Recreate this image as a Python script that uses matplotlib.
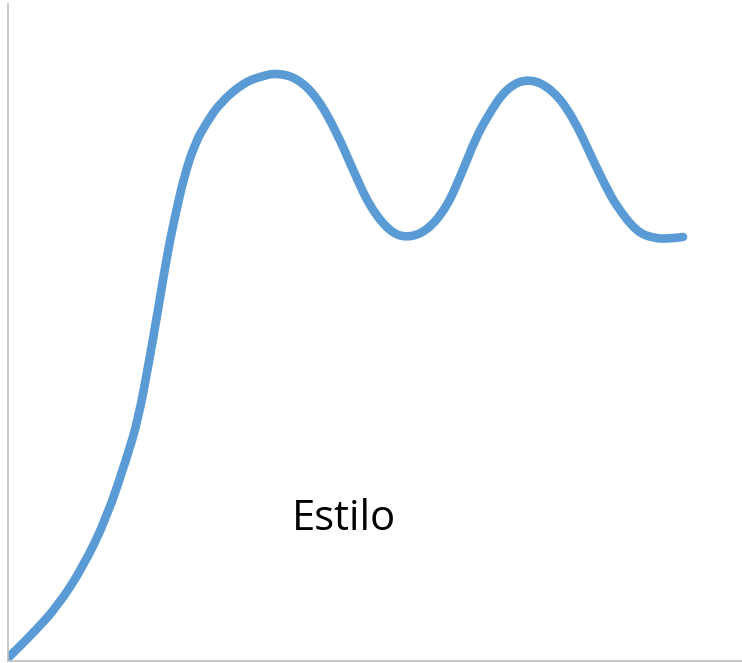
import matplotlib
matplotlib.use("Agg")
import matplotlib.pyplot as plt
from matplotlib.path import Path
from matplotlib.patches import PathPatch

# curve (x to the right, y upwards, same units as the axes)
curve_x = [0, 12, 25, 49, 75, 99, 119, 130, 141, 150, 160, 168, 176, 187, 199,
           212, 235, 254, 269, 289, 309, 329, 345, 362, 382, 399, 419, 439, 455,
           467, 479, 499, 522, 545, 565, 585, 597, 609, 629, 645, 660, 675]
curve_y = [3, 15, 28, 54, 94, 144, 204, 241, 299, 351, 411, 449, 484, 518, 539,
           558, 578, 585, 588, 583, 564, 528, 491, 454, 429, 423, 430, 454, 491,
           521, 544, 574, 583, 571, 544, 501, 476, 454, 429, 423, 422, 424]
label = "Estilo"

fig = plt.figure(figsize=(7.42, 6.63), dpi=100)
ax = fig.add_axes([8 / 742, 2 / 663, 734 / 742, 657 / 663])

# smooth the traced polyline: quadratic curves through the midpoints,
# with the traced points as control points
pts = list(zip(curve_x, curve_y))
verts = [pts[0]]
codes = [Path.MOVETO]
for i in range(1, len(pts) - 1):
    mid = ((pts[i][0] + pts[i + 1][0]) / 2, (pts[i][1] + pts[i + 1][1]) / 2)
    if i == len(pts) - 2:
        mid = pts[-1]
    verts += [pts[i], mid]
    codes += [Path.CURVE3, Path.CURVE3]

ax.add_patch(PathPatch(Path(verts, codes), fill=False, edgecolor="#5B9BD5",
                       lw=6.2, capstyle="round", joinstyle="round"))
ax.text(336, 131, label, ha="center", va="baseline", fontsize=30,
        family=["Open Sans", "DejaVu Sans"], color="black")

ax.set_xlim(0, 734)
ax.set_ylim(0, 657)
ax.set_xticks([])
ax.set_yticks([])
for side in ["top", "right"]:
    ax.spines[side].set_visible(False)
for side in ["left", "bottom"]:
    ax.spines[side].set_color("#BFBFBF")
    ax.spines[side].set_linewidth(1.2)

fig.savefig("out.png", dpi=100)
